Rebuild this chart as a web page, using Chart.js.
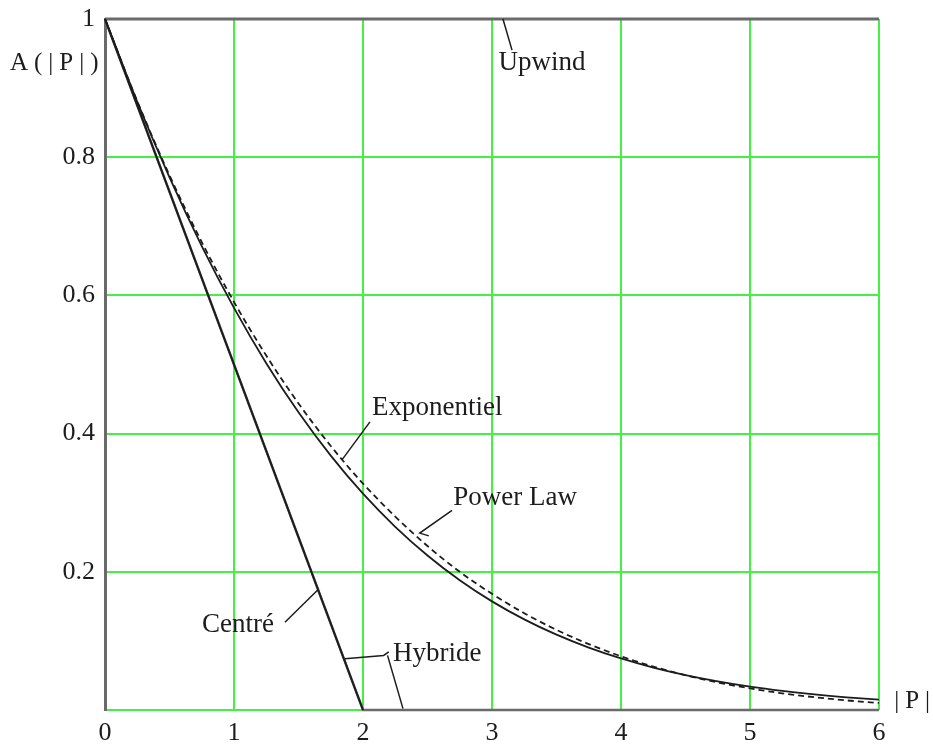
<!DOCTYPE html>
<html>
<head>
<meta charset="utf-8">
<script src="https://cdn.jsdelivr.net/npm/chart.js@4/dist/chart.umd.min.js"></script>
<style>
  html, body { margin: 0; padding: 0; background: #ffffff; }
  canvas { display: block; }
</style>
</head>
<body>
<canvas id="chart" width="933" height="747"></canvas>
<script>
// |P| sample positions for the two smooth schemes
const pValues = [0, 0.25, 0.5, 0.75, 1, 1.25, 1.5, 1.75, 2, 2.25, 2.5, 2.75, 3,
                 3.25, 3.5, 3.75, 4, 4.25, 4.5, 4.75, 5, 5.25, 5.5, 5.75, 6];

// Exponentiel scheme A(|P|)
const exponentiel = [1, 0.8802, 0.7708, 0.6714, 0.5820, 0.5019, 0.4308, 0.3681, 0.3130,
                     0.2651, 0.2236, 0.1878, 0.1572, 0.1311, 0.1090, 0.0903, 0.0746,
                     0.0615, 0.0506, 0.0415, 0.0339, 0.0277, 0.0226, 0.0184, 0.0149];

// Power Law scheme A(|P|)
const powerLaw = [1, 0.8811, 0.7738, 0.6772, 0.5905, 0.5129, 0.4437, 0.3821, 0.3277,
                  0.2799, 0.2373, 0.2000, 0.1681, 0.1401, 0.1160, 0.0954, 0.0778,
                  0.0629, 0.0503, 0.0398, 0.0313, 0.0241, 0.0185, 0.0139, 0.0102];

// Piecewise-linear schemes
const centreP = [0, 2];
const centreA = [1, 0];
const hybrideP = [0, 2, 6];
const hybrideA = [1, 0, 0];
const upwindP = [0, 6];
const upwindA = [1, 1];

// Tick labels
const xTickLabels = ['0', '1', '2', '3', '4', '5', '6'];
const yTickLabels = ['', '0.2', '0.4', '0.6', '0.8', '1'];

// Curve labels with their leader lines, placed in (|P|, A) coordinates
const curveNotes = [
  { text: 'Upwind',      at: [3.05, 0.937],  leaders: [[[3.085, 1.0], [3.155, 0.955]]] },
  { text: 'Exponentiel', at: [2.07, 0.437],  leaders: [[[2.054, 0.417], [1.837, 0.362]]] },
  { text: 'Power Law',   at: [2.70, 0.307],  leaders: [[[2.69, 0.289], [2.44, 0.256], [2.51, 0.252]]] },
  { text: 'Centré',      at: [0.752, 0.123], leaders: [[[1.395, 0.127], [1.651, 0.174]]] },
  { text: 'Hybride',     at: [2.233, 0.081], leaders: [[[1.86, 0.074], [2.16, 0.079], [2.20, 0.084]],
                                                       [[2.19, 0.079], [2.31, 0.002]]] }
];

// Axis titles, also placed in (|P|, A) coordinates
const axisTitles = [
  { text: 'A(|P|)', at: [-0.37, 0.936] },
  { text: '|P|',    at: [6.28, 0.012] }
];

const toPoints = (xs, ys) => xs.map((x, i) => ({ x: x, y: ys[i] }));

const GRID_GREEN = '#44f044';
const AXIS_GREY = '#6a6a6a';
const INK = '#1c1c1c';
const SERIF = '"Liberation Serif", "DejaVu Serif", serif';

const notesPlugin = {
  id: 'curveNotes',
  afterDatasetsDraw(chart) {
    const { ctx, scales: { x, y } } = chart;
    ctx.save();
    ctx.strokeStyle = INK;
    ctx.lineWidth = 1.5;
    ctx.fillStyle = INK;
    ctx.font = '27px ' + SERIF;
    ctx.textAlign = 'left';
    ctx.textBaseline = 'middle';
    curveNotes.forEach(n => {
      n.leaders.forEach(path => {
        ctx.beginPath();
        path.forEach((pt, i) => {
          const px = x.getPixelForValue(pt[0]);
          const py = y.getPixelForValue(pt[1]);
          if (i === 0) ctx.moveTo(px, py); else ctx.lineTo(px, py);
        });
        ctx.stroke();
      });
      ctx.fillText(n.text, x.getPixelForValue(n.at[0]), y.getPixelForValue(n.at[1]));
    });
    ctx.textAlign = 'center';
    ctx.font = '25px ' + SERIF;
    if ('letterSpacing' in ctx) ctx.letterSpacing = '6px';
    axisTitles.forEach(t => {
      ctx.fillText(t.text, x.getPixelForValue(t.at[0]), y.getPixelForValue(t.at[1]));
    });
    ctx.restore();
  }
};

new Chart(document.getElementById('chart'), {
  type: 'scatter',
  data: {
    datasets: [
      { label: 'Centré', data: toPoints(centreP, centreA),
        borderColor: INK, borderWidth: 2 },
      { label: 'Exponentiel', data: toPoints(pValues, exponentiel),
        borderColor: INK, borderWidth: 1.8, cubicInterpolationMode: 'monotone' },
      { label: 'Power Law', data: toPoints(pValues, powerLaw),
        borderColor: INK, borderWidth: 1.8, borderDash: [6, 4], cubicInterpolationMode: 'monotone' },
      { label: 'Hybride', data: toPoints(hybrideP, hybrideA),
        borderColor: AXIS_GREY, borderWidth: 2.5 },
      { label: 'Upwind', data: toPoints(upwindP, upwindA),
        borderColor: AXIS_GREY, borderWidth: 3 }
    ].map(d => Object.assign({ showLine: true, pointRadius: 0, pointHoverRadius: 0, clip: false }, d))
  },
  options: {
    responsive: false,
    animation: false,
    devicePixelRatio: 1,
    layout: { padding: { top: 19, right: 54, left: 0, bottom: 0 } },
    plugins: {
      legend: { display: false },
      tooltip: { enabled: false }
    },
    scales: {
      x: {
        type: 'linear',
        min: 0, max: 6,
        afterFit(scale) {
          scale.height = 37;
          scale.paddingLeft = 0;
          scale.paddingRight = 0;
        },
        border: { display: false },
        grid: {
          drawTicks: false,
          lineWidth: 2,
          color: ctx => (ctx.tick && ctx.tick.value === 0) ? 'rgba(0,0,0,0)' : GRID_GREEN
        },
        ticks: {
          stepSize: 1,
          padding: 8,
          color: INK,
          font: { family: SERIF, size: 26 },
          callback: (v, i) => xTickLabels[i]
        }
      },
      y: {
        type: 'linear',
        min: 0, max: 1,
        afterFit(scale) {
          scale.width = 105;
          scale.paddingTop = 0;
          scale.paddingBottom = 0;
        },
        border: { display: true, color: AXIS_GREY, width: 3 },
        grid: {
          drawTicks: false,
          lineWidth: 2,
          color: GRID_GREEN
        },
        ticks: {
          stepSize: 0.2,
          padding: 10,
          color: INK,
          font: { family: SERIF, size: 26 },
          callback: (v, i) => yTickLabels[i]
        }
      }
    }
  },
  plugins: [notesPlugin]
});
</script>
</body>
</html>
